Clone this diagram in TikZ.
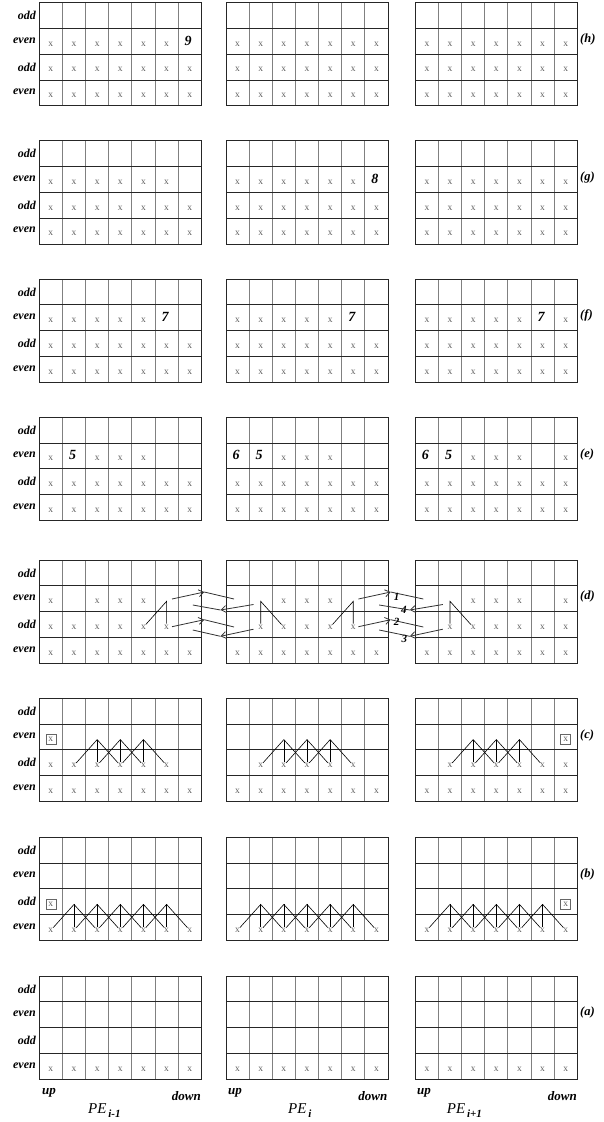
\documentclass[tikz,border=0pt]{standalone}
\usepackage{fontspec}
\setmainfont{Liberation Serif}
\usetikzlibrary{arrows.meta}

\tikzset{
 hline/.style={black!85, line width=0.9pt},
 vline/.style={black!50, line width=0.9pt},
 xmark/.style={circle, inner sep=0pt, minimum size=6.5pt, font=\fontsize{9.5}{10}\selectfont, text=black!62},
 boxx/.style={rectangle, draw=black!60, line width=0.7pt, inner sep=0pt, minimum size=10pt, font=\fontsize{9.5}{10}\selectfont, text=black!62},
 num/.style={inner sep=0pt, font=\fontsize{14}{15}\selectfont\bfseries\itshape},
 rowlab/.style={anchor=east, inner sep=0pt, font=\fontsize{12}{13}\selectfont\bfseries\itshape},
 panlab/.style={anchor=west, inner sep=0pt, font=\fontsize{12.5}{13}\selectfont\bfseries\itshape},
 endlab/.style={inner sep=0pt, font=\fontsize{13}{14}\selectfont\bfseries\itshape},
 pelab/.style={anchor=base west, inner sep=0pt, font=\fontsize{15}{16}\selectfont\itshape},
 link/.style={black, line width=0.6pt},
 flow/.style={black!80, line width=0.8pt},
 flowhead/.style={flow, -{Straight Barb[length=5pt,width=7pt]}},
 arrlab/.style={inner sep=0pt, font=\fontsize{11}{12}\selectfont\bfseries\itshape},
}

\def\cw{23.143}
\def\rh{25.8}
\def\gw{162}

\newcommand\onegrid[3]{%
 \begin{scope}[shift={(#3,\ptop)}]
  \foreach \c in {1,...,6}{\draw[vline] ({\c*\cw},0) -- ({\c*\cw},{4*\rh});}
  \foreach \r in {1,2,3}{\draw[hline] (0,{\r*\rh}) -- (\gw,{\r*\rh});}
  \draw[hline] (0,0) rectangle (\gw,{4*\rh});
  \foreach \r in {1,...,4}{\foreach \c in {1,...,7}{
    \coordinate (#1-#2-\r-\c) at ({(\c-0.5)*\cw},{(\r-1)*\rh+15.5});
  }}
 \end{scope}}

\newcommand\panel[3]{%
 \def\ptop{#2}%
 \onegrid{#1}{1}{39.3}
 \onegrid{#1}{2}{226}
 \onegrid{#1}{3}{415.3}
 \node[rowlab] (#1-l1) at (36,{#2+0.5*\rh}) {odd};
 \node[rowlab] (#1-l2) at (36,{#2+1.5*\rh-1}) {even};
 \node[rowlab] (#1-l3) at (36,{#2+2.5*\rh}) {odd};
 \node[rowlab] (#1-l4) at (36,{#2+3.5*\rh-1}) {even};
 \node[panlab] (#1-lab) at (580,{#2+1.5*\rh-2}) {(#3)};
}

\newcommand\xs[4]{\foreach \c in {#4}{\node[xmark] (x-#1-#2-#3-\c) at (#1-#2-#3-\c) {x};}}
\newcommand\bx[4]{\node[boxx] (x-#1-#2-#3-#4) at (#1-#2-#3-#4) {x};}
\newcommand\nm[5]{\node[num] (n-#1-#2-#3-#4) at ([shift={(-1.5,-3.5)}]#1-#2-#3-#4) {#5};}
\newcommand\tent[4]{%
 \pgfmathtruncatemacro\trb{#3+1}\pgfmathtruncatemacro\tcl{#4-1}\pgfmathtruncatemacro\tcr{#4+1}%
 \draw[link] (x-#1-#2-\trb-\tcl) -- (#1-#2-#3-#4) -- (x-#1-#2-\trb-\tcr);
 \draw[link] (#1-#2-#3-#4) -- (x-#1-#2-\trb-#4);}

\newcommand\flows[4]{% #1 left grid, #2 right grid, #3 xr, #4 xl
 \coordinate (f#1#2-rus) at ({#3-29.3},599);
 \coordinate (f#1#2-ruh) at ({#3+3},592);
 \coordinate (f#1#2-rue) at ({#4+8},599);
 \coordinate (f#1#2-lus) at ({#4+27.5},604.5);
 \coordinate (f#1#2-luh) at ({#4-5.5},610);
 \coordinate (f#1#2-lue) at ({#3-8.5},605);
 \coordinate (f#1#2-rls) at ({#3-29.3},626.7);
 \coordinate (f#1#2-rlh) at ({#3+3},619.7);
 \coordinate (f#1#2-rle) at ({#4+8},627);
 \coordinate (f#1#2-lls) at ({#4+27.5},629.2);
 \coordinate (f#1#2-llh) at ({#4-5.5},636.3);
 \coordinate (f#1#2-lle) at ({#3-8.5},630);
 \foreach \a in {ru,lu,rl,ll}{
  \draw[flowhead] (f#1#2-\a s) -- (f#1#2-\a h);
  \draw[flow] (f#1#2-\a h) -- (f#1#2-\a e);
 }}

\begin{document}
\begin{tikzpicture}[x=1pt,y=-1pt]
\fill[white] (0,0) rectangle (603,1122);
\useasboundingbox (0,0) rectangle (603,1122);

% (h)
\panel{h}{2.7}{h}
\foreach \g in {1,2,3}{\xs{h}{\g}{3}{1,...,7}\xs{h}{\g}{4}{1,...,7}}
\xs{h}{1}{2}{1,...,6}\nm{h}{1}{2}{7}{9}
\xs{h}{2}{2}{1,...,7}
\xs{h}{3}{2}{1,...,7}

% (g)
\panel{g}{140.9}{g}
\foreach \g in {1,2,3}{\xs{g}{\g}{3}{1,...,7}\xs{g}{\g}{4}{1,...,7}}
\xs{g}{1}{2}{1,...,6}
\xs{g}{2}{2}{1,...,6}\nm{g}{2}{2}{7}{8}
\xs{g}{3}{2}{1,...,7}

% (f)
\panel{f}{279.1}{f}
\foreach \g in {1,2,3}{\xs{f}{\g}{3}{1,...,7}\xs{f}{\g}{4}{1,...,7}}
\xs{f}{1}{2}{1,...,5}\nm{f}{1}{2}{6}{7}
\xs{f}{2}{2}{1,...,5}\nm{f}{2}{2}{6}{7}
\xs{f}{3}{2}{1,2,3,4,5,7}\nm{f}{3}{2}{6}{7}

% (e)
\panel{e}{417.3}{e}
\foreach \g in {1,2,3}{\xs{e}{\g}{3}{1,...,7}\xs{e}{\g}{4}{1,...,7}}
\xs{e}{1}{2}{1,3,4,5}\nm{e}{1}{2}{2}{5}
\xs{e}{2}{2}{3,4,5}\nm{e}{2}{2}{1}{6}\nm{e}{2}{2}{2}{5}
\xs{e}{3}{2}{3,4,5,7}\nm{e}{3}{2}{1}{6}\nm{e}{3}{2}{2}{5}

% (d)
\panel{d}{560}{d}
\foreach \g in {1,2,3}{\xs{d}{\g}{4}{1,...,7}}
\xs{d}{1}{2}{1,3,4,5}\xs{d}{1}{3}{1,...,6}
\xs{d}{2}{2}{3,4,5}\xs{d}{2}{3}{2,...,6}
\xs{d}{3}{2}{3,4,5,7}\xs{d}{3}{3}{2,...,7}
\draw[link] (x-d-1-3-5) -- (d-1-2-6) -- (x-d-1-3-6);
\draw[link] (x-d-2-3-3) -- (d-2-2-2) -- (x-d-2-3-2);
\draw[link] (x-d-2-3-5) -- (d-2-2-6) -- (x-d-2-3-6);
\draw[link] (x-d-3-3-3) -- (d-3-2-2) -- (x-d-3-3-2);
\flows{1}{2}{201.3}{226}
\flows{2}{3}{387.7}{415.3}
\node[arrlab] (a1) at ([shift={(6,5)}]f23-ruh) {1};
\node[arrlab] (a4) at ([shift={(-6,0)}]f23-luh) {4};
\node[arrlab] (a2) at ([shift={(6,2.6)}]f23-rlh) {2};
\node[arrlab] (a3) at ([shift={(-5.5,2.7)}]f23-llh) {3};

% (c)
\panel{c}{698.3}{c}
\foreach \g in {1,2,3}{\xs{c}{\g}{4}{1,...,7}}
\xs{c}{1}{3}{1,...,6}\bx{c}{1}{2}{1}
\xs{c}{2}{3}{2,...,6}
\xs{c}{3}{3}{2,...,7}\bx{c}{3}{2}{7}
\foreach \g in {1,2,3}{\foreach \k in {3,4,5}{\tent{c}{\g}{2}{\k}}}

% (b)
\panel{b}{837.3}{b}
\foreach \g in {1,2,3}{\xs{b}{\g}{4}{1,...,7}}
\bx{b}{1}{3}{1}
\bx{b}{3}{3}{7}
\foreach \g in {1,2,3}{\foreach \k in {2,...,6}{\tent{b}{\g}{3}{\k}}}

% (a)
\panel{a}{976}{a}
\foreach \g in {1,2,3}{\xs{a}{\g}{4}{1,...,7}}

% bottom labels
\node[endlab, anchor=base west] (up1) at (42,1094.5) {up};
\node[endlab, anchor=base east] (dn1) at (201,1100) {down};
\node[endlab, anchor=base west] (up2) at (228,1094.5) {up};
\node[endlab, anchor=base east] (dn2) at (387.5,1100) {down};
\node[endlab, anchor=base west] (up3) at (417,1094.5) {up};
\node[endlab, anchor=base east] (dn3) at (577,1100) {down};
\node[pelab] (pe1) at (88,1113) {PE\raisebox{-4pt}{\fontsize{11}{12}\selectfont\bfseries\itshape\,i-1}};
\node[pelab] (pe2) at (288,1113) {PE\raisebox{-4pt}{\fontsize{11}{12}\selectfont\bfseries\itshape\,i}};
\node[pelab] (pe3) at (446.7,1113) {PE\raisebox{-4pt}{\fontsize{11}{12}\selectfont\bfseries\itshape\,i+1}};
\end{tikzpicture}
\end{document}
